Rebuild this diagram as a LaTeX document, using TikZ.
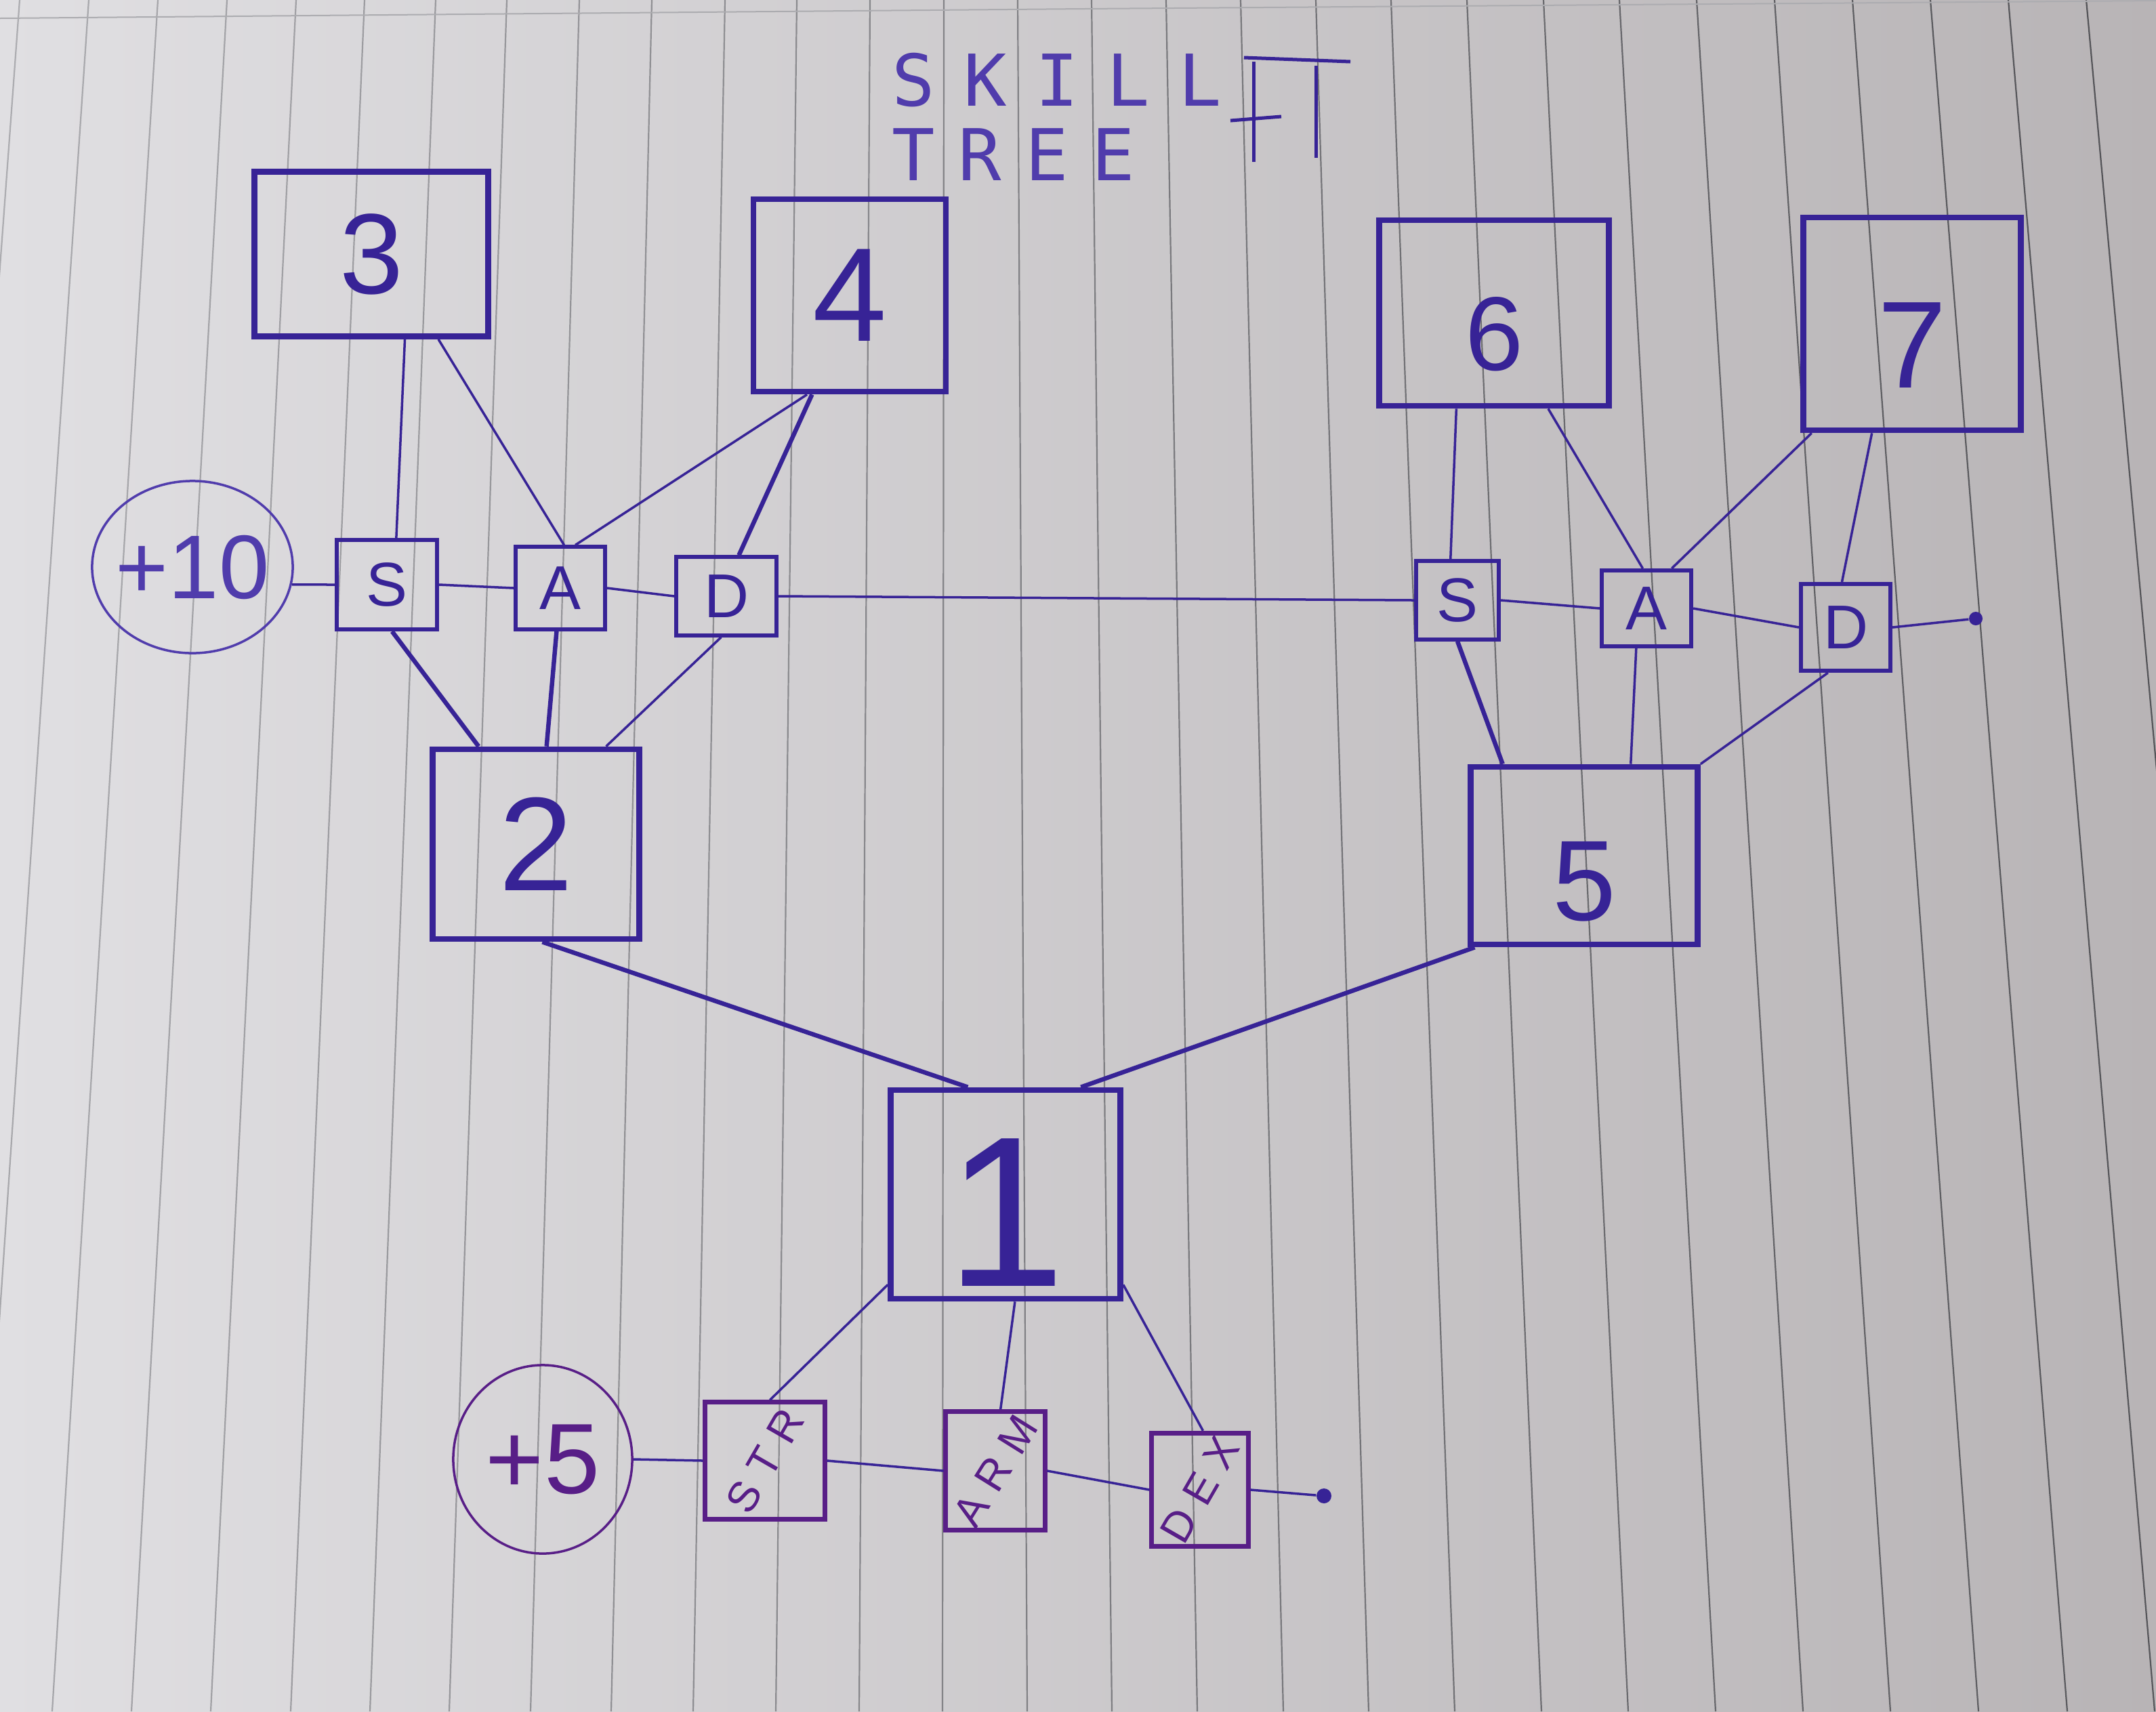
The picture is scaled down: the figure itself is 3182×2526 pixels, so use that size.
\documentclass[tikz,border=0pt]{standalone}
\usepackage{fontspec}
\usepackage{graphicx}
\setmainfont{Liberation Sans}
\newfontfamily\titlefont[LetterSpace=40]{DejaVu Sans Mono}
\newfontfamily\treefont[LetterSpace=33]{DejaVu Sans Mono}
\newfontfamily\statfont[LetterSpace=30]{Liberation Sans}
\usetikzlibrary{calc,shapes.geometric}
\definecolor{ink}{RGB}{55,35,150}
\definecolor{inkp}{RGB}{88,30,135}
\definecolor{inkl}{RGB}{80,60,172}
\definecolor{paperL}{RGB}{224,223,226}
\definecolor{paperM}{RGB}{214,212,215}
\definecolor{paperR}{RGB}{184,180,182}
\definecolor{ruleL}{RGB}{172,172,176}
\definecolor{ruleD}{RGB}{80,80,84}
\begin{document}
\begin{tikzpicture}[x=0.01cm,y=-0.01cm,
  bigbox/.style={draw=ink, line width=0.085cm, rectangle, inner sep=0pt, text=ink},
  smallbox/.style={draw=ink, line width=0.06cm, rectangle, inner sep=0pt, text=ink, font=\fontsize{26}{28}\selectfont},
  statbox/.style={draw=inkp, line width=0.07cm, rectangle, inner sep=0pt, text=inkp, font=\statfont\fontsize{18}{20}\selectfont},
  bubble/.style={draw=inkl, line width=0.035cm, ellipse, inner sep=0pt},
  bubbletext/.style={text=inkl, font=\fontsize{38}{40}\selectfont},
  link/.style={draw=ink, line width=0.035cm},
  heavy/.style={draw=ink, line width=0.065cm},
  doodle/.style={draw=ink, line width=0.05cm},
  enddot/.style={circle, fill=ink, inner sep=0pt, minimum size=0.2cm}
]
\useasboundingbox (0,0) rectangle (3182,2526);
\shade[left color=paperL, middle color=paperM, right color=paperR] (0,0) rectangle (3182,2526);
\begin{scope}
\clip (0,0) rectangle (3182,2526);
\foreach \a/\b [evaluate=\a as \p using {int(max(0,min(100,\a/31.82)))}] in {29/-157,131/-40,233/77,335/194,437/311,538/429,643/546,748/663,855/783,962/902,1070/1023,1176/1145,1284/1268,1393/1391,1502/1516,1611/1641,1721/1767,1831/1894,1942/2020,2053/2147,2165/2275,2278/2403,2390/2532,2504/2661,2619/2790,2734/2920,2849/3051,2964/3180,3079/3310}
  \draw[color=ruleD!\p!ruleL, line width=0.022cm] (\a,0) -- (\b,2526);
\draw[ruleL, line width=0.02cm] (0,27) -- (1600,13) -- (3182,1);
\end{scope}

% title
\node[font=\titlefont\fontsize{30}{32}\selectfont, text=inkl, anchor=base] (title1) at (1560,156) {SKILL};
\node[font=\treefont\fontsize{30}{32}\selectfont, text=inkl, anchor=base] (title2) at (1496,266) {TREE};
\draw[doodle] (1836,85) -- (1993,91);
\draw[doodle] (1850,91) -- (1850,239);
\draw[doodle] (1816,178) -- (1891,172);
\draw[doodle] (1942,97) -- (1942,233);

% big boxes
\node[bigbox, minimum width=3.45cm, minimum height=2.43cm, font=\fontsize{48}{50}\selectfont] (n3) at (548,375) {3};
\node[bigbox, minimum width=2.84cm, minimum height=2.84cm, font=\fontsize{56}{58}\selectfont] (n4) at (1254,436) {4};
\node[bigbox, minimum width=3.39cm, minimum height=2.74cm, font=\fontsize{44}{46}\selectfont, text height=1.71cm] (n6) at (2205,462) {6};
\node[bigbox, minimum width=3.21cm, minimum height=3.14cm, font=\fontsize{52}{54}\selectfont, text height=1.89cm] (n7) at (2822,478) {7};
\node[bigbox, minimum width=3.05cm, minimum height=2.80cm, font=\fontsize{56}{58}\selectfont] (n2) at (791,1246) {2};
\node[bigbox, minimum width=3.35cm, minimum height=2.62cm, font=\fontsize{48}{50}\selectfont, text height=1.93cm] (n5) at (2338,1263) {5};
\node[bigbox, minimum width=3.39cm, minimum height=3.08cm, font=\fontsize{90}{92}\selectfont, text height=2.7cm] (n1) at (1484,1763) {1};

% small boxes
\node[smallbox, minimum width=1.48cm, minimum height=1.32cm] (s1) at (571,863) {S};
\node[smallbox, minimum width=1.32cm, minimum height=1.21cm] (a1) at (827,868) {A};
\node[smallbox, minimum width=1.48cm, minimum height=1.15cm] (d1) at (1072,880) {D};
\node[smallbox, minimum width=1.22cm, minimum height=1.15cm] (s2) at (2151,886) {S};
\node[smallbox, minimum width=1.32cm, minimum height=1.12cm] (a2) at (2430,898) {A};
\node[smallbox, minimum width=1.32cm, minimum height=1.28cm] (d2) at (2724,926) {D};
\node[bubble, minimum width=2.96cm, minimum height=2.54cm, label={[bubbletext]center:+10}] (c10) at (284,837) {};
\node[enddot] (dotR) at (2916,913) {};

% stat boxes
\node[bubble, draw=inkp, minimum width=2.64cm, minimum height=2.78cm, label={[bubbletext, text=inkp, font=\fontsize{42}{44}\selectfont]center:+5}] (c5) at (801,2154) {};
\node[statbox, minimum width=1.76cm, minimum height=1.72cm] (str) at (1129,2156) {\rotatebox{60}{STR}};
\node[statbox, minimum width=1.46cm, minimum height=1.62cm] (arm) at (1469,2171) {\rotatebox{58}{ARM}};
\node[statbox, minimum width=1.42cm, minimum height=1.46cm] (dex) at (1771,2199) {\rotatebox{60}{DEX}};
\node[enddot, minimum size=0.22cm] (dotB) at (1954,2208) {};

% tree connectors (upper left)
\draw[link] ($(n3.south west)!0.64!(n3.south east)$) -- ($(s1.north west)!0.59!(s1.north east)$);
\draw[link] ($(n3.south west)!0.78!(n3.south east)$) -- ($(a1.north west)!0.54!(a1.north east)$);
\draw[link] ($(n4.south west)!0.285!(n4.south east)$) -- ($(a1.north west)!0.66!(a1.north east)$);
\draw[heavy] ($(n4.south west)!0.31!(n4.south east)$) -- ($(d1.north west)!0.62!(d1.north east)$);
\draw[heavy] ($(s1.south west)!0.55!(s1.south east)$) -- ($(n2.north west)!0.23!(n2.north east)$);
\draw[heavy] ($(a1.south west)!0.46!(a1.south east)$) -- ($(n2.north west)!0.55!(n2.north east)$);
\draw[link] ($(d1.south west)!0.45!(d1.south east)$) -- ($(n2.north west)!0.83!(n2.north east)$);
% upper right
\draw[link] ($(n6.south west)!0.34!(n6.south east)$) -- ($(s2.north west)!0.42!(s2.north east)$);
\draw[link] ($(n6.south west)!0.73!(n6.south east)$) -- ($(a2.north west)!0.46!(a2.north east)$);
\draw[link] ($(n7.south west)!0.05!(n7.south east)$) -- ($(a2.north west)!0.77!(a2.north east)$);
\draw[link] ($(n7.south west)!0.32!(n7.south east)$) -- ($(d2.north west)!0.46!(d2.north east)$);
\draw[heavy] ($(s2.south west)!0.5!(s2.south east)$) -- ($(n5.north west)!0.15!(n5.north east)$);
\draw[link] ($(a2.south west)!0.39!(a2.south east)$) -- ($(n5.north west)!0.70!(n5.north east)$);
\draw[link] ($(d2.south west)!0.31!(d2.south east)$) -- (n5.north east);
% to root
\draw[heavy] ($(n2.south west)!0.53!(n2.south east)$) -- ($(n1.north west)!0.34!(n1.north east)$);
\draw[heavy] ($(n5.south west)!0.03!(n5.south east)$) -- ($(n1.north west)!0.82!(n1.north east)$);
\draw[link] ($(n1.south west)+(0,-25)$) -- ($(str.north west)!0.54!(str.north east)$);
\draw[link] ($(n1.south west)!0.54!(n1.south east)$) -- ($(arm.north west)!0.55!(arm.north east)$);
\draw[link] ($(n1.south east)+(0,-25)$) -- ($(dex.north west)!0.53!(dex.north east)$);

% rows
\draw[link] (c10.-10) -- (s1.west);
\draw[link] (s1.east) -- (a1.west);
\draw[link] (a1.east) -- (d1.west);
\draw[link] (d1.east) -- (s2.west);
\draw[link] (s2.east) -- (a2.west);
\draw[link] (a2.east) -- (d2.west);
\draw[link] (d2.east) -- (dotR);
\draw[link] (c5.east) -- (str.west);
\draw[link] (str.east) -- (arm.west);
\draw[link] (arm.east) -- (dex.west);
\draw[link] (dex.east) -- (dotB);
\end{tikzpicture}
\end{document}
